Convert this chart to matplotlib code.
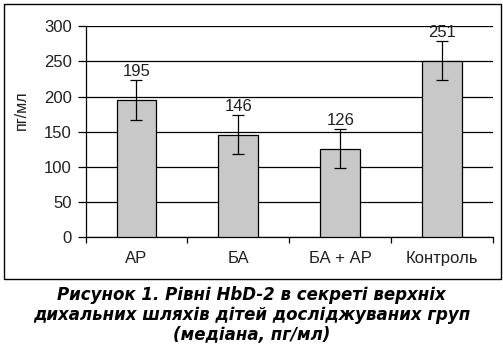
import matplotlib
matplotlib.use("Agg")
import matplotlib.pyplot as plt
from matplotlib.patches import Rectangle
import numpy as np

categories = ["АР", "БА", "БА + АР", "Контроль"]
medians = [195, 146, 126, 251]
errors = [28, 28, 28, 28]
yticks = [0, 50, 100, 150, 200, 250, 300]

plt.rcParams['font.family'] = ['Liberation Sans', 'DejaVu Sans']
tc = '#231f20'

fig = plt.figure(figsize=(5.03, 3.44), dpi=100)
W, H = 503, 344
ax = fig.add_axes([85.5 / W, 1 - 237.3 / H, (493 - 85.5) / W, (237.3 - 26.3) / H])

x = np.arange(len(categories))
ax.bar(x, medians, width=0.39, color='#c8c8c8', edgecolor='black', linewidth=0.9, zorder=3)
ax.errorbar(x, medians, yerr=errors, fmt='none', ecolor='black', elinewidth=0.9,
            capsize=4, capthick=0.9, zorder=4)
for xi, m, e in zip(x, medians, errors):
    ax.text(xi, m + e + 2, str(m), ha='center', va='bottom', fontsize=12, color=tc)

ax.set_xlim(-0.5, len(categories) - 0.5)
ax.set_ylim(0, 300)
ax.set_yticks(yticks)
ax.yaxis.grid(True, color='black', linewidth=0.9, zorder=0)
ax.set_axisbelow(True)
ax.set_xticks(x)
ax.set_xticklabels(categories, fontsize=12, color=tc)
ax.set_xticks(np.arange(-0.5, len(categories)), minor=True)
ax.tick_params(axis='x', which='major', length=0, pad=10)
ax.tick_params(axis='x', which='minor', length=4, width=0.9, direction='out')
ax.tick_params(axis='y', length=6, width=0.9, labelsize=12, labelcolor=tc, pad=4)
for s in ['top', 'right']:
    ax.spines[s].set_visible(False)
ax.spines['left'].set_linewidth(0.9)
ax.spines['bottom'].set_linewidth(0.9)

fig.text(21 / W, 1 - 110 / H, "пг/мл", rotation=90, ha='center', va='center',
         fontsize=11.5, color=tc)

fig.patches.append(Rectangle((4 / W, 1 - 278.5 / H), (501 - 4) / W, (278.5 - 3.5) / H,
                             transform=fig.transFigure, fill=False, edgecolor='black',
                             linewidth=1.0))

caption = ("Рисунок 1. Рівні HbD-2 в секреті верхніх\n"
           "дихальних шляхів дітей досліджуваних груп\n"
           "(медіана, пг/мл)")
fig.text(0.5, 1 - 315 / H, caption, ha='center', va='center', fontsize=12,
         fontweight='bold', fontstyle='italic', linespacing=1.12, color='black',
         family=['DejaVu Sans'])

fig.savefig("out.png", dpi=100)
